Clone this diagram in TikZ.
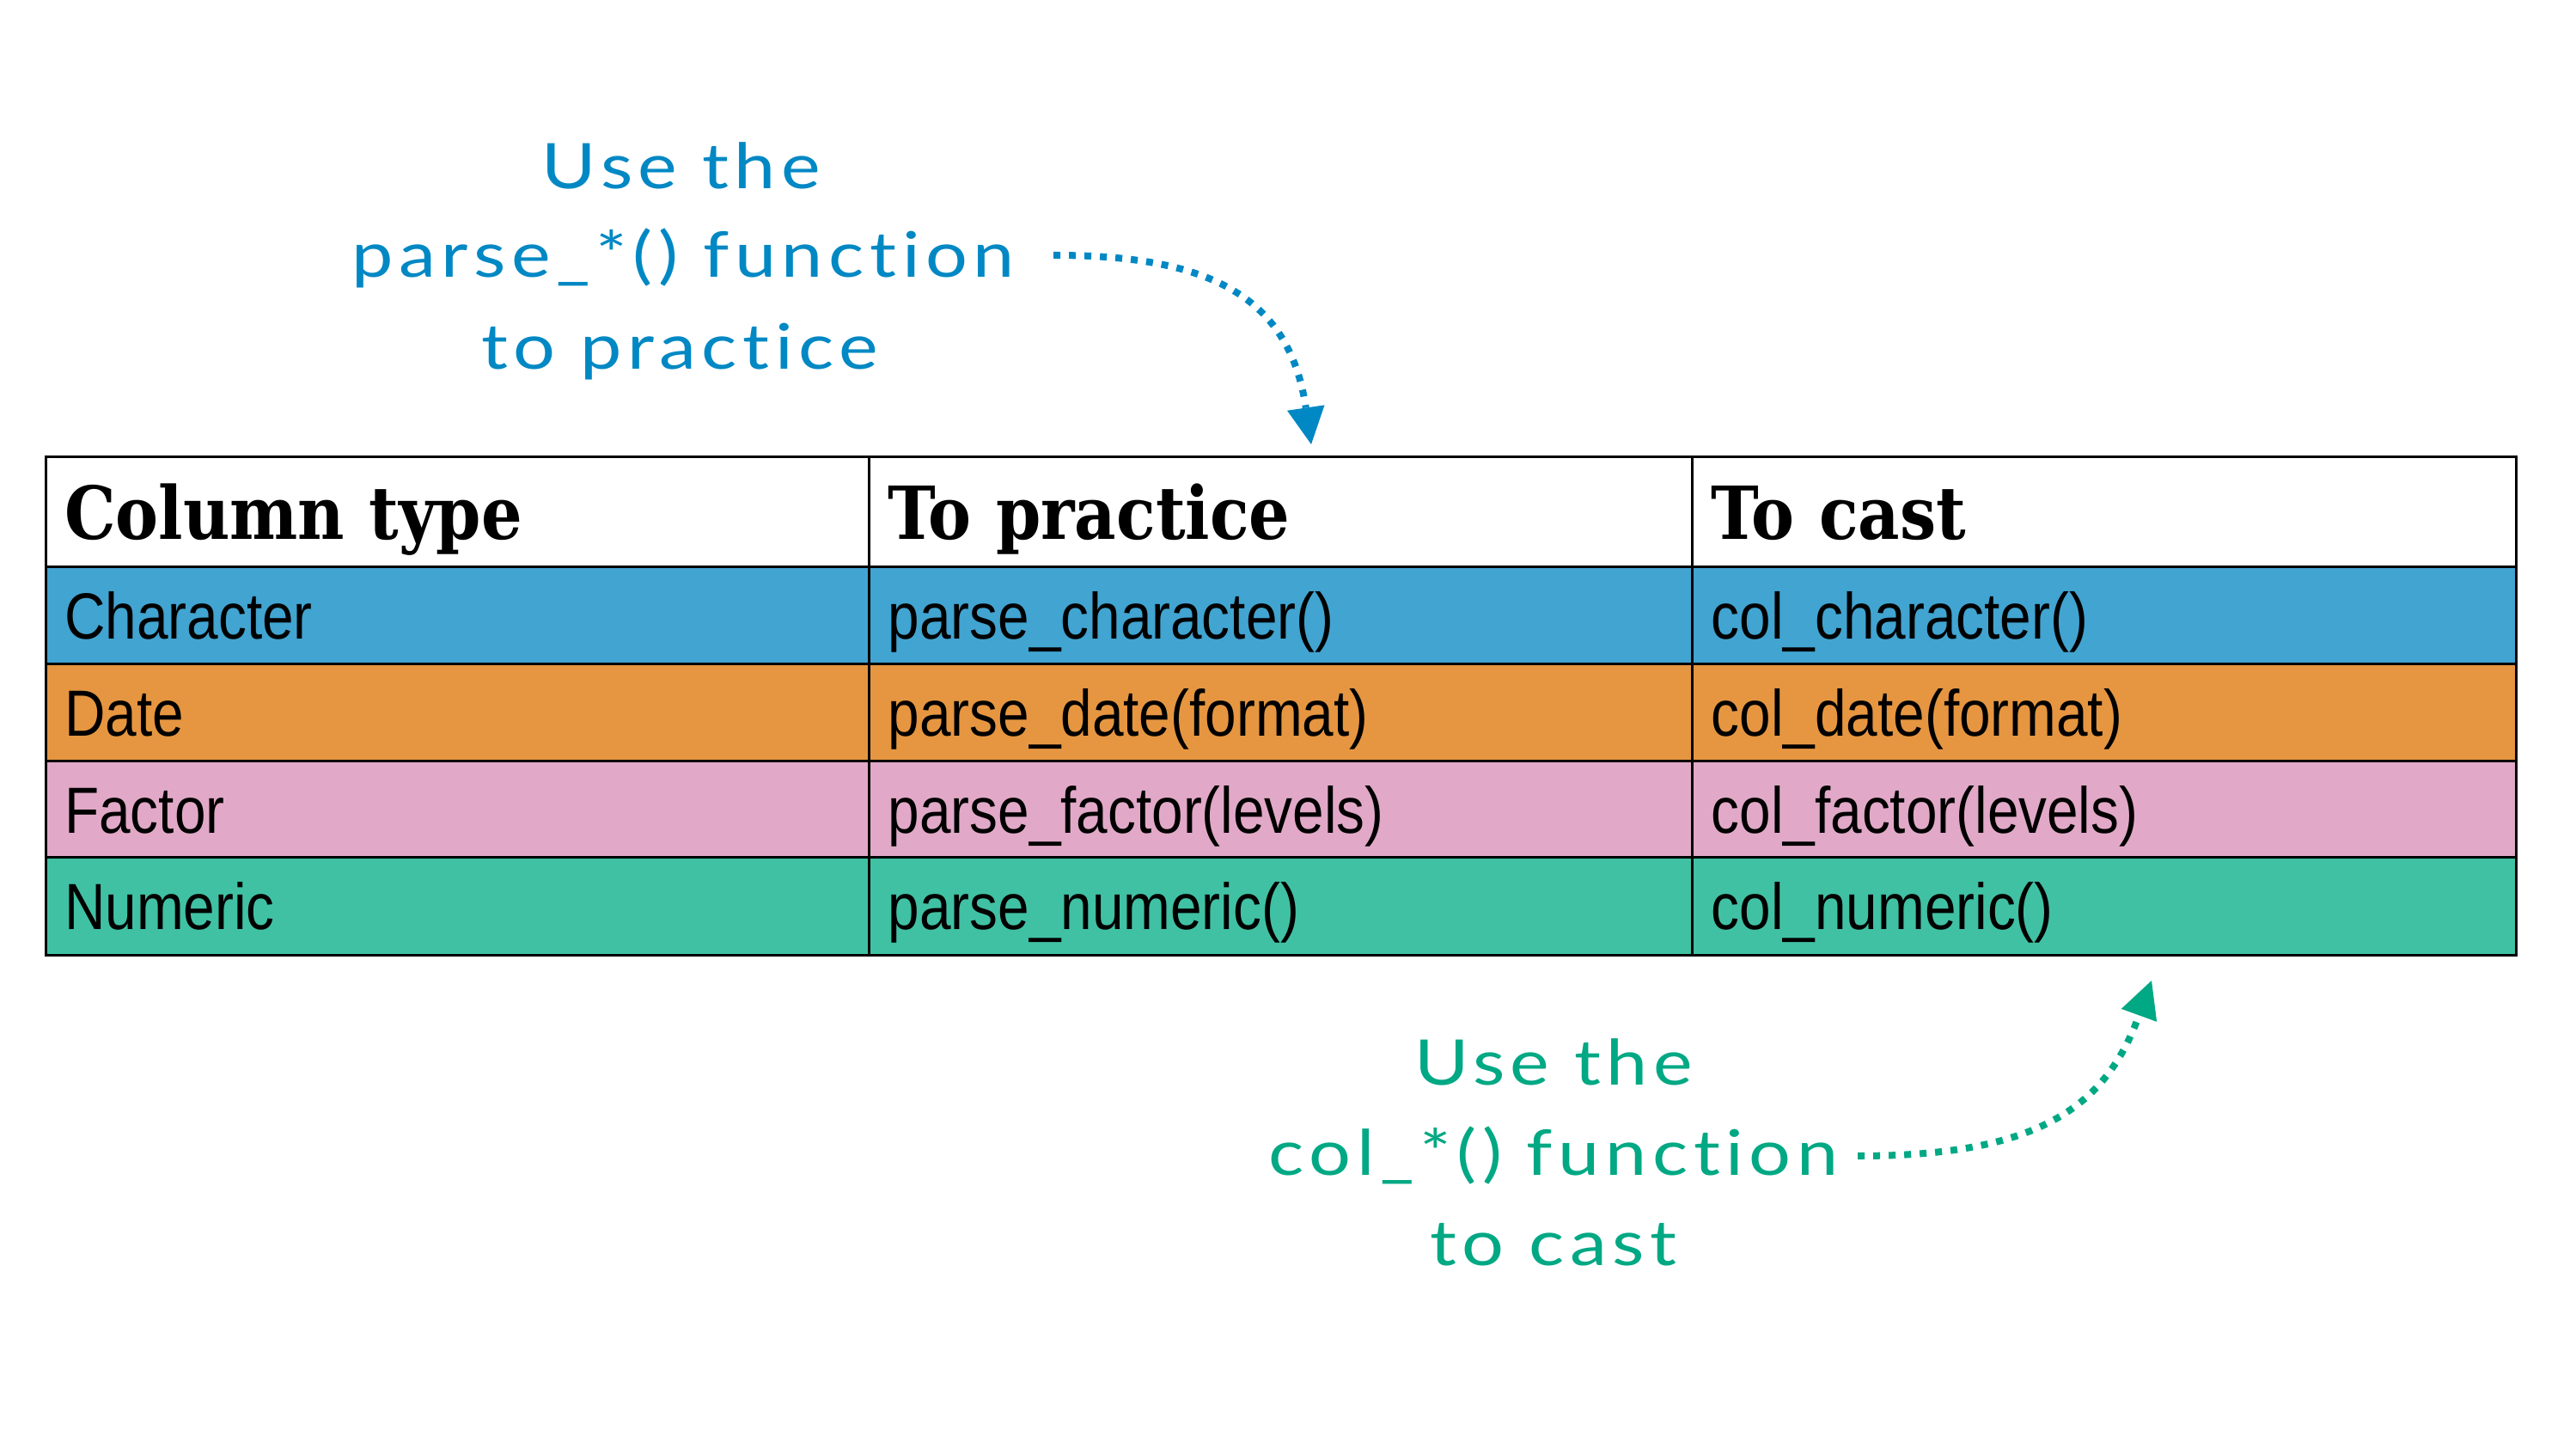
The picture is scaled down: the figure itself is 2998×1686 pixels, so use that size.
\documentclass[tikz,border=0pt]{standalone}
\usepackage{fontspec}
\usetikzlibrary{arrows.meta}
\newfontfamily\hdrfont[FakeStretch=0.88]{DejaVu Serif}
\newfontfamily\bodyfont[FakeStretch=0.865]{Liberation Sans}
\newfontfamily\handfont[FakeStretch=1.18,LetterSpace=9,Ligatures=NoCommon]{Lato}
\definecolor{rowblue}{HTML}{41A4D1}
\definecolor{roworange}{HTML}{E69640}
\definecolor{rowpink}{HTML}{E1A9C7}
\definecolor{rowgreen}{HTML}{40C1A4}
\definecolor{handblue}{HTML}{0088C4}
\definecolor{handgreen}{HTML}{00A884}
\begin{document}
\begin{tikzpicture}[x=0.01cm,y=-0.01cm,
  cell/.style={draw=black, line width=0.85pt, rectangle, minimum width=9.58cm,
    inner xsep=0.22cm, inner ysep=0pt, text width=9.14cm, align=left, text depth=0pt},
  hdrcell/.style={cell, fill=white, minimum height=1.28cm, text height=0.62cm,
    font=\hdrfont\bfseries\fontsize{24.2pt}{29pt}\selectfont},
  bodycell/.style={cell, minimum height=1.13cm, text height=0.54cm,
    font=\bodyfont\fontsize{21.6pt}{26pt}\selectfont},
  handtext/.style={inner sep=0pt, anchor=base, font=\handfont\fontsize{20.8pt}{25pt}\selectfont},
  dotarrow/.style={line width=2.28pt, dash pattern=on 2.28pt off 2.85pt,
    -{Triangle[length=12.2pt,width=12.5pt,line width=0pt]}}
]
\useasboundingbox (0,0) rectangle (2998,1686);
\fill[white] (0,0) rectangle (2998,1686);

% header
\node[hdrcell] (h1) at (532.5,596) {Column type};
\node[hdrcell] (h2) at (1491,596) {To practice};
\node[hdrcell] (h3) at (2449,596) {To cast};
% rows
\node[bodycell, fill=rowblue] (r1a) at (532.5,716.5) {Character};
\node[bodycell, fill=rowblue] (r1b) at (1491,716.5) {parse\_character()};
\node[bodycell, fill=rowblue] (r1c) at (2449,716.5) {col\_character()};
\node[bodycell, fill=roworange] (r2a) at (532.5,829.5) {Date};
\node[bodycell, fill=roworange] (r2b) at (1491,829.5) {parse\_date(format)};
\node[bodycell, fill=roworange] (r2c) at (2449,829.5) {col\_date(format)};
\node[bodycell, fill=rowpink] (r3a) at (532.5,942) {Factor};
\node[bodycell, fill=rowpink] (r3b) at (1491,942) {parse\_factor(levels)};
\node[bodycell, fill=rowpink] (r3c) at (2449,942) {col\_factor(levels)};
\node[bodycell, fill=rowgreen] (r4a) at (532.5,1054.5) {Numeric};
\node[bodycell, fill=rowgreen] (r4b) at (1491,1054.5) {parse\_numeric()};
\node[bodycell, fill=rowgreen] (r4c) at (2449,1054.5) {col\_numeric()};

% blue annotation
\node[handtext, text=handblue] (bl1) at (793,220) {Use the};
\node[handtext, text=handblue] (bl2) at (795,323) {parse\_*() function};
\node[handtext, text=handblue] (bl3) at (791,430) {to practice};
\coordinate (bs) at (1226,297);
\coordinate (bt) at (1526,517);
\draw[dotarrow, handblue] (bs) .. controls (1400,297) and (1500,340) .. (bt);

% green annotation
\node[handtext, text=handgreen] (gl1) at (1808,1262) {Use the};
\node[handtext, text=handgreen] (gl2) at (1808,1367) {col\_*() function};
\node[handtext, text=handgreen] (gl3) at (1808,1472) {to cast};
\coordinate (gs) at (2162,1345);
\coordinate (gt) at (2504,1141);
\draw[dotarrow, handgreen] (gs) .. controls (2370,1345) and (2450,1290) .. (gt);
\end{tikzpicture}
\end{document}
